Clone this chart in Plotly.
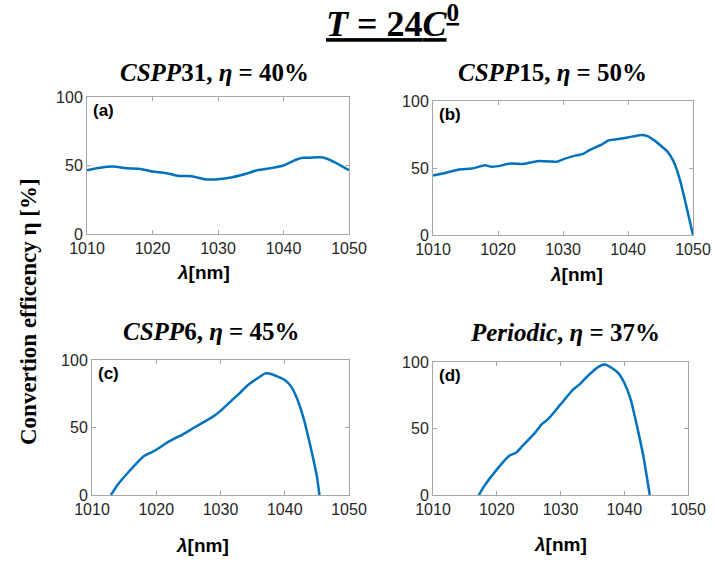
import plotly.graph_objects as go

# wavelength [nm] / conversion efficiency [%]
wl_a = [1010, 1012, 1014, 1016, 1018, 1020, 1022, 1024, 1026, 1028, 1030,
        1032, 1034, 1036, 1038, 1040, 1042, 1043, 1044, 1046, 1048, 1050]
eta_a = [46.5, 48.4, 49.2, 48.0, 47.7, 45.6, 44.6, 42.4, 42.2, 40.0, 40.0,
         41.2, 43.6, 46.5, 48.0, 50.0, 54.4, 55.6, 55.7, 55.9, 52.0, 46.5]

wl_b = [1010, 1012, 1014, 1016, 1018, 1019, 1020, 1022, 1024, 1026, 1028,
        1029, 1030, 1032, 1033, 1034, 1036, 1037, 1038, 1040, 1042, 1043,
        1044, 1045, 1046, 1047, 1048, 1049, 1050]
eta_b = [44.4, 46.4, 48.9, 49.6, 52.0, 50.9, 51.4, 53.4, 53.1, 55.1, 54.9,
         54.6, 56.4, 59.4, 60.3, 63.1, 67.6, 70.6, 71.3, 72.8, 74.6, 73.8,
         70.8, 66.8, 62.6, 55.0, 41.0, 21.0, 0.0]

wl_c = [1012.95, 1014, 1016, 1018, 1019, 1020, 1022, 1024, 1026, 1028, 1029,
        1030, 1032, 1033, 1034, 1036, 1037, 1038, 1040, 1041, 1042, 1043,
        1044, 1045, 1045.4]
eta_c = [0.0, 7.6, 18.7, 28.6, 31.0, 33.5, 39.7, 44.6, 50.2, 55.7, 58.6,
         62.3, 71.2, 75.4, 80.3, 87.2, 90.1, 89.4, 85.2, 80.3, 70.4, 55.7,
         36.0, 13.8, 0.0]

wl_d = [1017.2, 1018, 1020, 1022, 1023, 1024, 1026, 1027, 1028, 1030, 1032,
        1033, 1034, 1036, 1037, 1038, 1039, 1040, 1041, 1042, 1043, 1044]
eta_d = [0.0, 6.5, 19.1, 29.6, 31.7, 36.7, 46.7, 53.0, 56.8, 68.1, 79.4,
         83.2, 88.2, 96.5, 98.2, 95.7, 92.0, 84.4, 71.9, 51.8, 29.1, 0.0]

x_ticks = [1010, 1020, 1030, 1040, 1050]
y_ticks = [0, 50, 100]

panels = [
    (wl_a, eta_a, '(a)', '<b><i>CSPP</i>31, <i>η</i> = 40%</b>'),
    (wl_b, eta_b, '(b)', '<b><i>CSPP</i>15, <i>η</i> = 50%</b>'),
    (wl_c, eta_c, '(c)', '<b><i>CSPP</i>6, <i>η</i> = 45%</b>'),
    (wl_d, eta_d, '(d)', '<b><i>Periodic</i>, <i>η</i> = 37%</b>'),
]

W, H = 715, 563
# plot boxes in pixels: left, right, top, bottom
boxes = [(87, 349, 97, 234), (433, 693, 101, 235),
         (92, 349, 360, 495), (433, 688, 362, 495)]
title_pos = [(214, 72), (552, 72), (211, 331), (565, 332)]
xlab_pos = [(204, 272), (576, 274), (202, 545), (560, 544)]

fig = go.Figure()
serif = 'Liberation Serif'
sans = 'Liberation Sans'


def paper_note(px, py, text, font, **kw):
    fig.add_annotation(x=px / W, y=1 - py / H, xref='paper', yref='paper', showarrow=False,
                       text=text, font=font, **kw)


for i, (x, y, tag, title) in enumerate(panels):
    n = i + 1
    xa = 'x' if n == 1 else f'x{n}'
    ya = 'y' if n == 1 else f'y{n}'
    fig.add_trace(go.Scatter(x=x, y=y, mode='lines', xaxis=xa, yaxis=ya,
                             line=dict(color='#0072BD', width=2.5, shape='spline', smoothing=0.6),
                             showlegend=False, hoverinfo='skip'))
    l, r, t, b = boxes[i]
    axis_common = dict(showline=True, mirror='ticks', linecolor='#a6a6a6', linewidth=1,
                       ticks='inside', ticklen=4, tickcolor='#a6a6a6', showgrid=False,
                       zeroline=False, tickfont=dict(family=sans, size=16, color='#262626'))
    fig.layout[f'xaxis{"" if n == 1 else n}'] = dict(
        domain=[l / W, r / W], anchor=ya, range=[1010, 1050], tickvals=x_ticks, **axis_common)
    fig.layout[f'yaxis{"" if n == 1 else n}'] = dict(
        domain=[1 - b / H, 1 - t / H], anchor=xa, range=[0, 100], tickvals=y_ticks, **axis_common)

    paper_note(l + 4, t + 2, f'<b>{tag}</b>', dict(family=sans, size=17, color='black'),
               xanchor='left', yanchor='top')
    tx, ty = title_pos[i]
    paper_note(tx, ty, title, dict(family=serif, size=25, color='black'),
               xanchor='center', yanchor='middle')
    lx, ly = xlab_pos[i]
    paper_note(lx, ly, '<b><i>λ</i>[nm]</b>', dict(family=sans, size=19, color='black'),
               xanchor='center', yanchor='middle')

paper_note(392, -3, '<b><u><i>T</i> = 24<i>C</i><sup>0</sup></u></b>',
           dict(family=serif, size=36, color='black'), xanchor='center', yanchor='top')
paper_note(28, 312, '<b>Convertion efficency η [%]</b>',
           dict(family=serif, size=23, color='black'), xanchor='center', yanchor='middle',
           textangle=-90)

fig.update_layout(width=W, height=H, margin=dict(l=0, r=0, t=0, b=0, autoexpand=False),
                  plot_bgcolor='white', paper_bgcolor='white')

fig.write_html("out.html", config={'displayModeBar': False},
               post_script="document.body.style.margin='0';")
